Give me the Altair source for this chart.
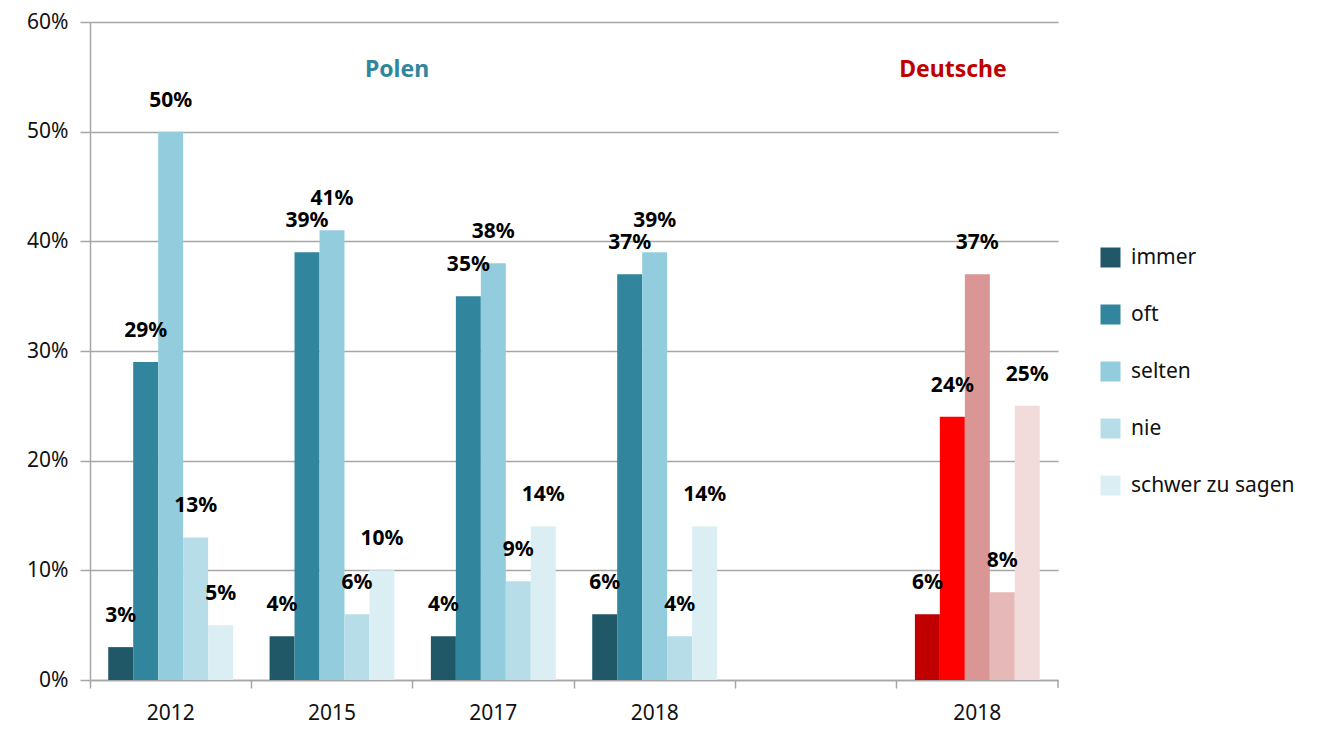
import altair as alt
import pandas as pd

groups = ["P2012", "P2015", "P2017", "P2018", "gap", "D2018"]
answers = ["immer", "oft", "selten", "nie", "schwer zu sagen"]

polen_2012 = [3, 29, 50, 13, 5]
polen_2015 = [4, 39, 41, 6, 10]
polen_2017 = [4, 35, 38, 9, 14]
polen_2018 = [6, 37, 39, 4, 14]
deutsche_2018 = [6, 24, 37, 8, 25]

polen_colors = ["#215868", "#31859C", "#93CDDD", "#B7DEE8", "#DAEEF3"]
deutsche_colors = ["#C00000", "#FF0000", "#D99694", "#E6B9B8", "#F2DCDB"]

rows = []
for g, vals in [("P2012", polen_2012), ("P2015", polen_2015), ("P2017", polen_2017), ("P2018", polen_2018)]:
    for a, v in zip(answers, vals):
        rows.append({"group": g, "answer": a, "key": a, "value": v, "label": f"{v}%"})
for a, v in zip(answers, deutsche_2018):
    rows.append({"group": "D2018", "answer": a, "key": "D " + a, "value": v, "label": f"{v}%"})
df = pd.DataFrame(rows)

color_domain = answers + ["D " + a for a in answers]
color_range = polen_colors + deutsche_colors

label_expr = "{'P2012':'2012','P2015':'2015','P2017':'2017','P2018':'2018','gap':'','D2018':'2018'}[datum.value]"

FONT = "Noto Sans"
GRAY = "#A6A6A6"

x_scale = alt.Scale(domain=groups, paddingInner=0, paddingOuter=0)
x_enc = alt.X("group:N", scale=x_scale,
              axis=alt.Axis(title=None, labelExpr=label_expr, bandPosition=0, tickSize=8,
                            tickColor=GRAY, tickWidth=1.5, domainColor=GRAY, domainWidth=1.5,
                            labelFontSize=21, labelPadding=14, labelColor="#111111",
                            labelAngle=0, grid=False, labelFont=FONT))
xo_enc = alt.XOffset("answer:N", scale=alt.Scale(domain=answers, paddingInner=0, paddingOuter=0.73))
y_enc = alt.Y("value:Q", scale=alt.Scale(domain=[0, 60]),
              axis=alt.Axis(title=None, values=[0, 10, 20, 30, 40, 50, 60],
                            labelExpr="datum.value + '%'", tickSize=10, tickColor=GRAY,
                            tickWidth=1.5, gridColor=GRAY, gridWidth=1.5, domainColor=GRAY,
                            domainWidth=1.5, labelFontSize=21, labelPadding=12,
                            labelColor="#111111", labelFont=FONT))

bars = alt.Chart(df).mark_bar().encode(
    x=x_enc, xOffset=xo_enc, y=y_enc,
    color=alt.Color("key:N", scale=alt.Scale(domain=color_domain, range=color_range),
                    legend=alt.Legend(title=None, values=answers, orient="none",
                                      legendX=1010, legendY=225, symbolType="square",
                                      symbolSize=400, symbolStrokeWidth=0,
                                      labelFontSize=21, labelFont=FONT, labelColor="#111111",
                                      labelOffset=10, rowPadding=35, padding=0, labelLimit=0)),
)

labels = alt.Chart(df).mark_text(dy=-31, fontSize=21, fontWeight="bold", font=FONT,
                                 color="#000000", baseline="middle").encode(
    x=alt.X("group:N", scale=x_scale),
    xOffset=xo_enc, y="value:Q", text="label:N")

titles_df = pd.DataFrame({"t": ["Polen", "Deutsche"], "px": [307, 863], "c": ["#31859C", "#C00000"]})
titles = alt.Chart(titles_df).mark_text(fontSize=23, fontWeight="bold", font=FONT,
                                        baseline="middle").encode(
    x=alt.X("px:Q", scale=None), y=alt.value(48), text="t:N",
    color=alt.Color("c:N", scale=None, legend=None))

end_tick = alt.Chart(pd.DataFrame({"a": [0]})).mark_rule(color=GRAY, strokeWidth=1.5).encode(
    x=alt.value(968), y=alt.value(658), y2=alt.value(666))

chart = alt.layer(bars, labels, titles, end_tick).resolve_scale(color="independent").properties(
    width=968, height=658,
    autosize=alt.AutoSizeParams(type="none"),
    padding={"left": 82, "top": 14, "right": 262, "bottom": 45},
).configure(font=FONT, view=alt.ViewConfig(stroke=None))

chart.save("out.html", embed_options={"renderer": "svg", "actions": False})
